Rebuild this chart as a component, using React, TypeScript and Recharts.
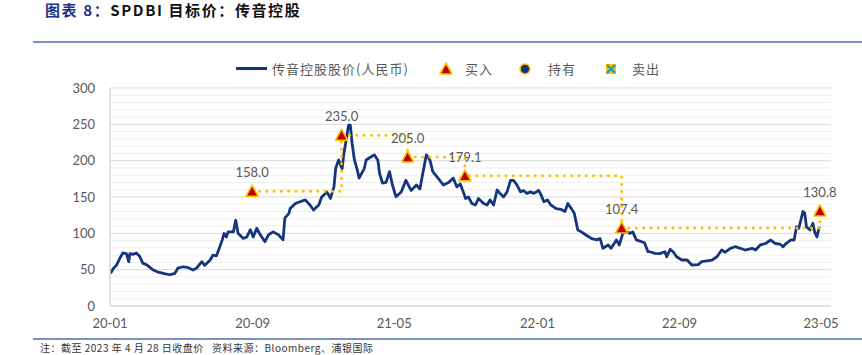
import {
  ComposedChart,
  Line,
  XAxis,
  YAxis,
  ReferenceLine,
  LabelList,
} from "recharts";

const priceDates = [
  "2020-01-02", "2020-01-07", "2020-01-12", "2020-01-18", "2020-01-23", "2020-01-29",
  "2020-02-02", "2020-02-04", "2020-02-09", "2020-02-15", "2020-02-21", "2020-02-26",
  "2020-03-05", "2020-03-14", "2020-03-22", "2020-04-01", "2020-04-12", "2020-04-21",
  "2020-04-26", "2020-05-05", "2020-05-13", "2020-05-22", "2020-05-28", "2020-06-06",
  "2020-06-11", "2020-06-20", "2020-06-25", "2020-07-01", "2020-07-07", "2020-07-11",
  "2020-07-14", "2020-07-18", "2020-07-21", "2020-07-30", "2020-08-03", "2020-08-07",
  "2020-08-16", "2020-08-22", "2020-08-28", "2020-09-02", "2020-09-08", "2020-09-14",
  "2020-09-22", "2020-09-28", "2020-10-06", "2020-10-15", "2020-10-23", "2020-10-26",
  "2020-11-02", "2020-11-04", "2020-11-13", "2020-11-21", "2020-11-30", "2020-12-08",
  "2020-12-14", "2020-12-23", "2020-12-28", "2021-01-06", "2021-01-12", "2021-01-18",
  "2021-01-21", "2021-01-26", "2021-02-01", "2021-02-04", "2021-02-07", "2021-02-12",
  "2021-02-15", "2021-02-18", "2021-02-22", "2021-02-27", "2021-03-02", "2021-03-11",
  "2021-03-14", "2021-03-22", "2021-03-28", "2021-04-03", "2021-04-06", "2021-04-11",
  "2021-04-17", "2021-04-23", "2021-04-28", "2021-05-04", "2021-05-13", "2021-05-21",
  "2021-05-30", "2021-06-08", "2021-06-14", "2021-06-19", "2021-06-25", "2021-07-01",
  "2021-07-06", "2021-07-15", "2021-07-24", "2021-08-02", "2021-08-10", "2021-08-16",
  "2021-08-22", "2021-08-28", "2021-08-31", "2021-09-05", "2021-09-11", "2021-09-17",
  "2021-09-22", "2021-10-01", "2021-10-07", "2021-10-12", "2021-10-18", "2021-10-24",
  "2021-10-29", "2021-11-04", "2021-11-10", "2021-11-16", "2021-11-21", "2021-11-27",
  "2021-12-03", "2021-12-08", "2021-12-14", "2021-12-20", "2021-12-26", "2022-01-03",
  "2022-01-06", "2022-01-12", "2022-01-18", "2022-01-24", "2022-02-02", "2022-02-10",
  "2022-02-17", "2022-02-22", "2022-02-28", "2022-03-05", "2022-03-11", "2022-03-17",
  "2022-03-25", "2022-04-03", "2022-04-12", "2022-04-18", "2022-04-23", "2022-05-02",
  "2022-05-07", "2022-05-16", "2022-05-21", "2022-05-27", "2022-06-02", "2022-06-08",
  "2022-06-13", "2022-06-19", "2022-06-28", "2022-07-03", "2022-07-09", "2022-07-12",
  "2022-07-21", "2022-07-29", "2022-08-07", "2022-08-10", "2022-08-16", "2022-08-21",
  "2022-08-27", "2022-09-05", "2022-09-14", "2022-09-22", "2022-10-03", "2022-10-09",
  "2022-10-18", "2022-10-26", "2022-11-04", "2022-11-12", "2022-11-18", "2022-11-27",
  "2022-12-05", "2022-12-14", "2022-12-22", "2023-01-03", "2023-01-09", "2023-01-17",
  "2023-01-26", "2023-02-04", "2023-02-12", "2023-02-20", "2023-02-25", "2023-03-02",
  "2023-03-10", "2023-03-16", "2023-03-20", "2023-03-24", "2023-03-31", "2023-04-03",
  "2023-04-06", "2023-04-12", "2023-04-17", "2023-04-20", "2023-04-24", "2023-04-28",
];

const priceValues = [
  45, 52, 56, 66, 73, 72,
  61, 72, 71, 73, 68, 59,
  56, 50, 47, 45, 43, 45,
  52, 54, 53, 49.5, 52, 61,
  56, 63, 70, 69, 82, 91,
  100, 95, 102, 102, 118, 100,
  93, 95, 105, 95, 107, 98,
  88.5, 98, 102, 98, 91, 121,
  127.5, 134, 141, 143.5, 146, 139,
  132, 139, 150, 157, 148, 164,
  189.5, 201, 189, 210, 224, 249,
  249, 224, 201, 187, 176, 189.5,
  201, 205, 208, 201, 182.6, 169,
  170, 185, 166.5, 150.4, 157, 173,
  159, 166.5, 161, 182.6, 208, 201,
  185, 176, 166.5, 170, 176, 164,
  168, 155, 148, 150, 141, 139,
  148, 141, 139, 146, 139, 159.6,
  155, 150, 157, 173, 173, 166.5,
  157, 159, 155, 157, 155, 159,
  155, 143.5, 146, 139, 134, 133,
  130, 141, 134, 127.5, 104.6, 102,
  97.7, 93, 91, 93, 79.4, 84,
  79.4, 90.8, 84, 100, 102, 100,
  102, 91, 88.5, 87, 74.7, 74.7,
  72.5, 72, 74.7, 67.8, 78, 74.7,
  67.8, 63.3, 63.3, 56.4, 57, 61,
  62, 63, 67.8, 77, 74, 79.4,
  81.6, 79.4, 77, 79.4, 77, 84,
  86, 90.8, 86, 85, 81.6, 86,
  90.8, 90.8, 109, 107, 130, 128,
  109, 104.6, 113.8, 102, 95, 109,
];

// SPDBI target prices (all "buy")
const targetDates = ["2020-08-31", "2021-01-31", "2021-05-24", "2021-08-30", "2022-05-25", "2023-04-29"];
const targetValues = [158.0, 235.0, 205.0, 179.1, 107.4, 130.8];

const tickDates = ["2020-01-01", "2020-09-01", "2021-05-01", "2022-01-01", "2022-09-01", "2023-05-01"];
const tickLabels = ["20-01", "20-09", "21-05", "22-01", "22-09", "23-05"];
const yTicks = [0, 50, 100, 150, 200, 250, 300];

const NAVY = "#15367f";
const GOLD = "#FFC000";
const RED = "#C00000";
const GREY_TEXT = "#595959";
const NUM_FONT = "Lato, 'Liberation Sans', sans-serif";
const CJK_FONT = "'Noto Sans CJK SC', sans-serif";

const toDay = (s: string) =>
  (Date.UTC(+s.slice(0, 4), +s.slice(5, 7) - 1, +s.slice(8, 10)) - Date.UTC(2020, 0, 1)) / 86400000;

const priceData = priceDates.map((d, i) => ({ day: toDay(d), price: priceValues[i] }));
const targetData = targetDates.map((d, i) => ({ day: toDay(d), target: targetValues[i] }));
const xTicks = tickDates.map(toDay);

// light grid every 10, a bit darker every 50
const gridLines: number[] = [];
for (let v = 10; v <= 300; v += 10) gridLines.push(v);

function Triangle({ cx, cy }: { cx?: number; cy?: number }) {
  if (cx == null || cy == null) return null;
  return (
    <path
      d={`M${cx},${cy - 6} L${cx + 6},${cy + 5} L${cx - 6},${cy + 5} Z`}
      fill={RED}
      stroke={GOLD}
      strokeWidth={1.6}
      strokeLinejoin="round"
    />
  );
}

function LegendBar() {
  const txt = { position: "absolute" as const, top: 60, fontSize: 13, color: GREY_TEXT, letterSpacing: 1, fontFamily: CJK_FONT, lineHeight: "18px" };
  return (
    <>
      <div style={{ position: "absolute", left: 236, top: 67, width: 31, height: 3, background: NAVY }} />
      <div style={{ ...txt, left: 272 }}>传音控股股价(人民币)</div>
      <svg style={{ position: "absolute", left: 438, top: 61 }} width={16} height={16}>
        <Triangle cx={8} cy={8} />
      </svg>
      <div style={{ ...txt, left: 465 }}>买入</div>
      <svg style={{ position: "absolute", left: 517, top: 61 }} width={16} height={16}>
        <circle cx={8} cy={8} r={5} fill={NAVY} stroke={GOLD} strokeWidth={1.6} />
      </svg>
      <div style={{ ...txt, left: 548 }}>持有</div>
      <svg style={{ position: "absolute", left: 603, top: 61 }} width={16} height={16}>
        <rect x={3} y={3} width={10} height={10} fill={GOLD} />
        <path d="M4,4 L12,12 M12,4 L4,12" stroke="#1c9fb0" strokeWidth={2.2} />
      </svg>
      <div style={{ ...txt, left: 632 }}>卖出</div>
    </>
  );
}

export default function App() {
  return (
    <div style={{ position: "relative", width: 862, height: 355, background: "#fff", overflow: "hidden" }}>
      <style>{"body{margin:0}"}</style>
      <div
        style={{
          position: "absolute",
          left: 45,
          top: 0,
          fontSize: 15,
          fontWeight: 700,
          fontFamily: CJK_FONT,
          letterSpacing: 1.6,
          lineHeight: "20px",
          whiteSpace: "pre",
        }}
      >
        <span style={{ color: "#22338a" }}>图表 8：</span>
        <span style={{ color: "#111" }}>SPDBI 目标价：传音控股</span>
      </div>
      <div style={{ position: "absolute", left: 33, top: 41, width: 829, height: 1.5, background: "#7f8fc2" }} />
      <LegendBar />

      <div style={{ position: "absolute", left: 0, top: 0 }}>
        <ComposedChart width={862} height={355} margin={{ top: 88, right: 31, bottom: 19, left: 70 }}>
          {gridLines.map((v) => (
            <ReferenceLine
              key={v}
              y={v}
              stroke={v % 50 === 0 ? "#d9d9d9" : "#eeeeee"}
              strokeWidth={1}
              ifOverflow="extendDomain"
            />
          ))}
          <XAxis
            dataKey="day"
            type="number"
            domain={[0, 1233]}
            ticks={xTicks}
            tickFormatter={(v) => tickLabels[xTicks.indexOf(v)] ?? ""}
            tick={{ fill: GREY_TEXT, fontSize: 13, fontFamily: NUM_FONT }}
            tickLine={false}
            tickSize={0}
            tickMargin={13}
            axisLine={{ stroke: "#d9d9d9", strokeWidth: 1.5 }}
            height={30}
            allowDataOverflow
          />
          <YAxis
            type="number"
            domain={[0, 300]}
            ticks={yTicks}
            tick={{ fill: GREY_TEXT, fontSize: 13, fontFamily: NUM_FONT }}
            tickLine={false}
            tickSize={0}
            tickMargin={15}
            axisLine={{ stroke: "#d9d9d9", strokeWidth: 1.5 }}
            width={40}
          />
          <Line
            data={priceData}
            dataKey="price"
            stroke={NAVY}
            strokeWidth={2.8}
            dot={false}
            isAnimationActive={false}
            strokeLinejoin="round"
          />
          <Line
            data={targetData}
            dataKey="target"
            type="stepAfter"
            stroke={GOLD}
            strokeWidth={3}
            strokeDasharray="0.1 7.2"
            strokeLinecap="round"
            dot={(p: any) => <Triangle key={`tri-${p.index}`} cx={p.cx} cy={p.cy} />}
            activeDot={false}
            isAnimationActive={false}
          >
            <LabelList
              dataKey="target"
              position="top"
              offset={14}
              formatter={(v: any) => Number(v).toFixed(1)}
              fill={GREY_TEXT}
              fontSize={13}
              fontFamily={NUM_FONT}
            />
          </Line>
        </ComposedChart>
      </div>

      <div style={{ position: "absolute", left: 33, top: 338, width: 829, height: 1.5, background: "#7f8fc2" }} />
      <div
        style={{
          position: "absolute",
          left: 40,
          top: 342,
          fontSize: 10,
          color: "#333",
          fontFamily: CJK_FONT,
          letterSpacing: 0.5,
          lineHeight: "12px",
          whiteSpace: "pre",
        }}
      >
        注：截至 2023 年 4 月 28 日收盘价   资料来源：Bloomberg、浦银国际
      </div>
    </div>
  );
}
